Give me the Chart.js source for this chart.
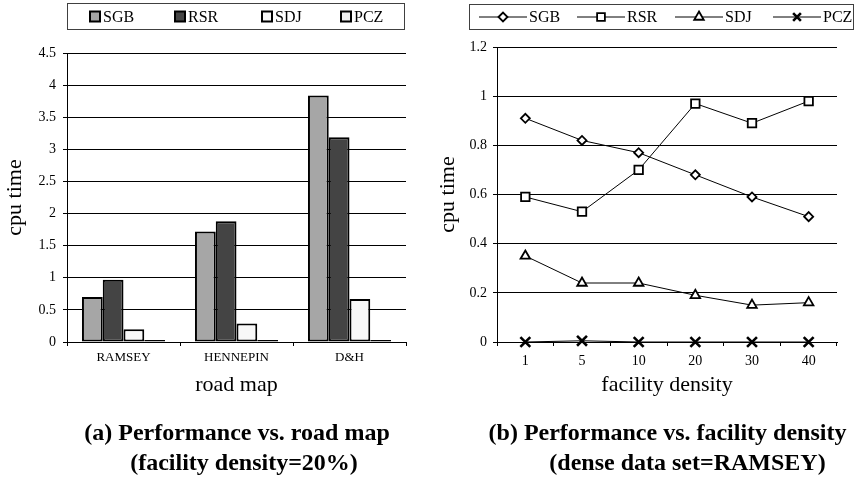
<!DOCTYPE html>
<html>
<head>
<meta charset="utf-8">
<script src="https://cdn.jsdelivr.net/npm/chart.js@4/dist/chart.umd.min.js"></script>
<style>
  html, body { margin: 0; padding: 0; background: #fff; }
  #wrap { position: relative; width: 857px; height: 482px; overflow: hidden; }
  canvas { position: absolute; top: 0; }
  #roadmap { left: 0; }
  #density { left: 430px; }
</style>
</head>
<body>
<div id="wrap">
  <canvas id="roadmap" width="430" height="482"></canvas>
  <canvas id="density" width="427" height="482"></canvas>
</div>
<script>
// ---- data: (a) cpu time per road map, facility density = 20% ----
const roadMaps = ['RAMSEY', 'HENNEPIN', 'D&H'];
const roadSGB = [0.70, 1.72, 3.84];
const roadRSR = [0.97, 1.88, 3.19];
const roadSDJ = [0.20, 0.29, 0.67];
const roadPCZ = [0.03, 0.03, 0.03];
const roadTicks = [0, 0.5, 1, 1.5, 2, 2.5, 3, 3.5, 4, 4.5];

// ---- data: (b) cpu time per facility density, data set RAMSEY ----
const densities = ['1', '5', '10', '20', '30', '40'];
const denSGB = [0.91, 0.82, 0.77, 0.68, 0.59, 0.51];
const denRSR = [0.59, 0.53, 0.70, 0.97, 0.89, 0.98];
const denSDJ = [0.35, 0.24, 0.24, 0.19, 0.15, 0.16];
const denPCZ = [0.00, 0.005, 0.00, 0.00, 0.00, 0.00];
const densityTicks = [0, 0.2, 0.4, 0.6, 0.8, 1, 1.2];

const seriesNames = ['SGB', 'RSR', 'SDJ', 'PCZ'];

const SERIF = '"Liberation Serif", "Times New Roman", Times, serif';
Chart.defaults.font.family = SERIF;
Chart.defaults.color = '#000';

// Legend in a framed box across the top, drawn from the datasets
const boxLegend = {
  id: 'boxLegend',
  afterDraw(chart, args, opts) {
    const ctx = chart.ctx;
    const [bx, by, bw, bh] = opts.box;
    ctx.save();
    ctx.strokeStyle = '#404040';
    ctx.lineWidth = 1;
    ctx.strokeRect(bx, by, bw, bh);
    const cy = by + bh / 2;
    ctx.font = '16px ' + SERIF;
    ctx.textBaseline = 'middle';
    ctx.textAlign = 'left';
    chart.data.datasets.forEach((ds, i) => {
      const x = opts.items[i];
      if (opts.kind === 'square') {
        ctx.fillStyle = ds.backgroundColor;
        ctx.fillRect(x, cy - 5, 10, 10);
        ctx.strokeStyle = '#000';
        ctx.lineWidth = 2;
        ctx.strokeRect(x, cy - 5, 10, 10);
        ctx.fillStyle = '#000';
        ctx.fillText(ds.label, x + 13, cy + 1);
      } else {
        ctx.strokeStyle = '#000';
        ctx.lineWidth = 1;
        ctx.beginPath();
        ctx.moveTo(x, cy);
        ctx.lineTo(x + 48, cy);
        ctx.stroke();
        ctx.fillStyle = '#fff';
        ctx.strokeStyle = '#000';
        ctx.lineWidth = ds.pointBorderWidth;
        Chart.helpers.drawPoint(ctx, {
          pointStyle: ds.pointStyle,
          rotation: 0,
          radius: Math.min(ds.pointRadius, 5.5),
          borderWidth: ds.pointBorderWidth
        }, x + 24, cy);
        ctx.fillStyle = '#000';
        ctx.fillText(ds.label, x + 50, cy + 1);
      }
    });
    ctx.restore();
  }
};

// Two-line bold caption under each panel
const caption = {
  id: 'caption',
  afterDraw(chart, args, opts) {
    const ctx = chart.ctx;
    ctx.save();
    ctx.font = 'bold 24px ' + SERIF;
    ctx.fillStyle = '#000';
    ctx.textAlign = 'center';
    ctx.textBaseline = 'alphabetic';
    opts.lines.forEach(l => ctx.fillText(l.text, l.x, l.y));
    ctx.restore();
  }
};

function valueAxis(tickValues, max, labelPad, titlePad) {
  return {
    min: 0,
    max: max,
    afterBuildTicks: axis => { axis.ticks = tickValues.map(v => ({ value: v })); },
    afterFit: scale => { scale.width = 67; },
    ticks: {
      font: { size: 14 },
      color: '#000',
      padding: labelPad,
      callback: v => String(v)
    },
    grid: { color: '#000', lineWidth: 1, tickLength: 4, tickColor: '#000' },
    border: { display: true, color: '#000', width: 1 },
    title: {
      display: true,
      text: 'cpu time',
      font: { size: 22 },
      color: '#000',
      padding: { top: titlePad, bottom: 0 }
    }
  };
}

function categoryAxis(title, fontSize, labelPad) {
  return {
    offset: true,
    afterFit: scale => { scale.height = 60; },
    ticks: { font: { size: fontSize }, color: '#000', padding: labelPad, maxRotation: 0, autoSkip: false },
    grid: { offset: true, drawOnChartArea: false, tickLength: 4, color: '#000', tickColor: '#000' },
    border: { display: true, color: '#000', width: 1 },
    title: {
      display: true,
      text: title,
      font: { size: 22 },
      color: '#000',
      padding: { top: 0, bottom: 4 }
    }
  };
}

// ---------- (a) grouped bars ----------
const barFills = ['#a6a6a6', '#444444', '#f8f8f8', '#eeeeee'];
const roadSeries = [roadSGB, roadRSR, roadSDJ, roadPCZ];

new Chart(document.getElementById('roadmap'), {
  type: 'bar',
  data: {
    labels: roadMaps,
    datasets: seriesNames.map((name, i) => ({
      label: name,
      data: roadSeries[i],
      backgroundColor: barFills[i],
      borderColor: '#000',
      borderWidth: 2,
      borderSkipped: false,
      categoryPercentage: 0.735,
      barPercentage: 1.0
    }))
  },
  options: {
    responsive: false,
    animation: false,
    devicePixelRatio: 1,
    layout: { padding: { top: 53, right: 24, bottom: 80, left: 0 } },
    plugins: {
      legend: { display: false },
      tooltip: { enabled: false },
      boxLegend: { box: [67.5, 3.5, 337, 26], items: [90, 175, 262, 341], kind: 'square' },
      caption: {
        lines: [
          { text: '(a) Performance vs. road map', x: 237, y: 440 },
          { text: '(facility density=20%)', x: 244, y: 470 }
        ]
      }
    },
    scales: {
      x: categoryAxis('road map', 13, 4),
      y: valueAxis(roadTicks, 4.5, 7, 2)
    }
  },
  plugins: [boxLegend, caption]
});

// ---------- (b) lines with markers ----------
const markerStyles = ['rectRot', 'rect', 'triangle', 'crossRot'];
const markerRadius = [4.5, 6, 5.5, 7];
const markerStroke = [1.8, 1.8, 1.8, 2.6];
const densitySeries = [denSGB, denRSR, denSDJ, denPCZ];

new Chart(document.getElementById('density'), {
  type: 'line',
  data: {
    labels: densities,
    datasets: seriesNames.map((name, i) => ({
      label: name,
      data: densitySeries[i],
      borderColor: '#000',
      borderWidth: 1,
      backgroundColor: '#fff',
      pointStyle: markerStyles[i],
      pointRadius: markerRadius[i],
      pointBorderWidth: markerStroke[i],
      pointBorderColor: '#000',
      pointBackgroundColor: '#fff',
      tension: 0,
      fill: false,
      clip: false
    }))
  },
  options: {
    responsive: false,
    animation: false,
    devicePixelRatio: 1,
    layout: { padding: { top: 47, right: 20, bottom: 80, left: 0 } },
    plugins: {
      legend: { display: false },
      tooltip: { enabled: false },
      boxLegend: { box: [39.5, 4.5, 384, 25], items: [49, 147, 245, 343], kind: 'line' },
      caption: {
        lines: [
          { text: '(b) Performance vs. facility density', x: 237.5, y: 440 },
          { text: '(dense data set=RAMSEY)', x: 257.5, y: 470 }
        ]
      }
    },
    scales: {
      x: categoryAxis('facility density', 14, 7),
      y: valueAxis(densityTicks, 1.2, 6, 5)
    }
  },
  plugins: [boxLegend, caption]
});
</script>
</body>
</html>
